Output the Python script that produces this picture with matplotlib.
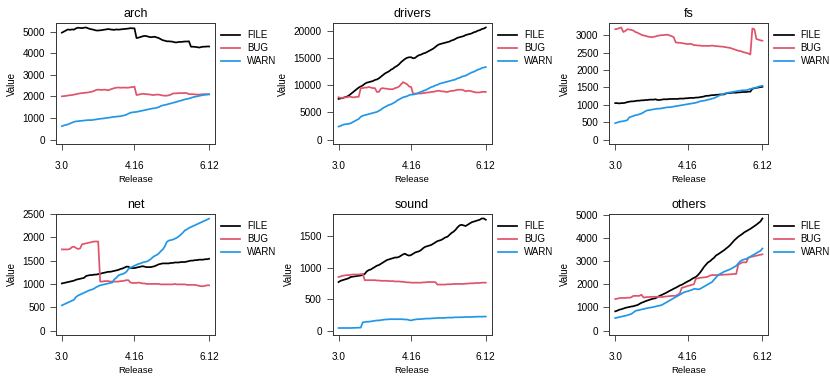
#!/usr/bin/env python3
"""Per-subsystem FILE / BUG / WARN counts across kernel releases (3.0 .. 6.12)."""

from __future__ import annotations

import matplotlib

matplotlib.use("Agg")
import matplotlib.pyplot as plt

# releases 3.0-3.19, 4.0-4.20, 5.0-5.19, 6.0-6.12
RELEASES = (
    [f"3.{i}" for i in range(20)]
    + [f"4.{i}" for i in range(21)]
    + [f"5.{i}" for i in range(20)]
    + [f"6.{i}" for i in range(13)]
)
TICK_RELEASES = ["3.0", "4.16", "6.12"]

SERIES = ["FILE", "BUG", "WARN"]
COLORS = {"FILE": "#000000", "BUG": "#DF536B", "WARN": "#2297E6"}
SUBSYSTEMS = ["arch", "drivers", "fs", "net", "sound", "others"]

arch_file = [
    4950, 5000, 5050, 5100, 5080, 5100, 5090, 5150, 5180, 5170,
    5160, 5180, 5190, 5150, 5120, 5100, 5080, 5050, 5050, 5060,
    5070, 5090, 5100, 5120, 5100, 5090, 5080, 5100, 5090, 5100,
    5110, 5120, 5130, 5140, 5160, 5150, 5150,
    4700, 4720, 4750, 4780, 4800, 4790, 4760, 4740, 4750, 4760,
    4730, 4700, 4650, 4600, 4580, 4550, 4550, 4540, 4530, 4500,
    4500, 4520, 4520, 4530, 4540, 4540, 4550, 4300, 4300, 4290,
    4280, 4260, 4280, 4300, 4300, 4310, 4310,
]
arch_bug = [
    2000, 2010, 2020, 2040, 2050, 2060, 2080, 2100, 2120, 2140,
    2150, 2160, 2170, 2180, 2200, 2220, 2250, 2300, 2310, 2300,
    2300, 2310, 2300, 2280, 2320, 2350, 2380, 2400, 2410, 2400,
    2400, 2410, 2400, 2400, 2420, 2430, 2450,
    2060, 2080, 2100, 2120, 2110, 2100, 2090, 2080, 2060, 2070,
    2080, 2080, 2060, 2040, 2030, 2030, 2050, 2080, 2130, 2140,
    2140, 2150, 2150, 2150, 2160, 2150, 2100, 2100, 2100, 2090,
    2080, 2080, 2090, 2100, 2100, 2100, 2100,
]
arch_warn = [
    620, 650, 680, 700, 740, 780, 820, 840, 850, 860,
    870, 880, 890, 900, 900, 900, 920, 930, 950, 960,
    970, 980, 1000, 1010, 1020, 1040, 1050, 1060, 1070, 1080,
    1100, 1120, 1150, 1200, 1240, 1260, 1270,
    1280, 1300, 1320, 1340, 1360, 1380, 1400, 1420, 1440, 1450,
    1470, 1500, 1550, 1580, 1600, 1620, 1650, 1670, 1700, 1720,
    1750, 1780, 1800, 1830, 1860, 1880, 1900, 1930, 1960, 1980,
    2000, 2020, 2040, 2060, 2070, 2080, 2090,
]

drivers_file = [
    7500, 7600, 7650, 7800, 7900, 8100, 8400, 8700, 9000, 9300,
    9600, 9800, 10000, 10300, 10500, 10600, 10700, 10800, 11000, 11100,
    11300, 11600, 11900, 12200, 12400, 12600, 12900, 13100, 13400, 13600,
    13900, 14300, 14600, 14900, 15100, 15200, 15200,
    15000, 15100, 15400, 15600, 15700, 15900, 16000, 16200, 16400, 16600,
    16800, 17100, 17400, 17600, 17700, 17800, 17900, 18000, 18100, 18300,
    18400, 18600, 18800, 18900, 19000, 19100, 19300, 19400, 19500, 19600,
    19800, 19900, 20100, 20200, 20400, 20500, 20700,
]
drivers_bug = [
    7800, 7700, 7700, 7800, 7800, 7900, 7900, 7800, 7800, 7900,
    7900, 9500, 9500, 9600, 9600, 9700, 9600, 9500, 9500, 8800,
    8800, 9400, 9500, 9400, 9400, 9300, 9300, 9300, 9500, 9600,
    9800, 10200, 10600, 10400, 10200, 9800, 9700,
    8400, 8500, 8500, 8500, 8500, 8600, 8600, 8700, 8700, 8800,
    8800, 8900, 9000, 9000, 8900, 8900, 8800, 8800, 8900, 9000,
    9000, 9100, 9200, 9200, 9200, 9100, 8900, 9000, 9000, 8900,
    8800, 8700, 8700, 8700, 8800, 8800, 8800,
]
drivers_warn = [
    2400, 2500, 2700, 2800, 2850, 2900, 3000, 3200, 3400, 3600,
    3800, 4200, 4400, 4500, 4600, 4700, 4800, 4900, 5000, 5100,
    5300, 5500, 5800, 6000, 6200, 6400, 6500, 6700, 6900, 7200,
    7400, 7600, 7800, 7900, 8000, 8200, 8300,
    8300, 8400, 8500, 8700, 8800, 9000, 9100, 9300, 9500, 9700,
    9800, 10000, 10100, 10300, 10400, 10500, 10600, 10700, 10800, 10900,
    11000, 11100, 11300, 11400, 11600, 11700, 11800, 12000, 12200, 12400,
    12500, 12700, 12900, 13000, 13200, 13300, 13400,
]

fs_file = [
    1050, 1050, 1040, 1050, 1050, 1060, 1080, 1090, 1100, 1100,
    1110, 1120, 1120, 1130, 1130, 1140, 1140, 1150, 1150, 1150,
    1160, 1140, 1140, 1150, 1160, 1160, 1160, 1170, 1170, 1170,
    1170, 1170, 1180, 1180, 1180, 1190, 1190,
    1200, 1200, 1200, 1210, 1210, 1220, 1230, 1240, 1260, 1260,
    1270, 1280, 1280, 1290, 1290, 1300, 1300, 1300, 1330, 1340,
    1340, 1350, 1350, 1350, 1360, 1360, 1370, 1370, 1370, 1380,
    1380, 1460, 1480, 1490, 1500, 1510, 1520,
]
fs_bug = [
    3180, 3190, 3210, 3230, 3100, 3130, 3180, 3170, 3160, 3140,
    3100, 3080, 3050, 3020, 3000, 2990, 2970, 2960, 2950, 2960,
    2970, 2990, 3000, 3010, 3010, 3020, 3020, 3000, 2980, 2950,
    2800, 2790, 2790, 2780, 2770, 2760, 2750,
    2760, 2750, 2720, 2720, 2710, 2710, 2700, 2700, 2700, 2700,
    2700, 2710, 2700, 2690, 2690, 2680, 2680, 2670, 2660, 2650,
    2640, 2620, 2600, 2580, 2560, 2550, 2530, 2510, 2500, 2480,
    2450, 3200, 3180, 2900, 2880, 2860, 2850,
]
fs_warn = [
    470, 490, 510, 520, 530, 540, 560, 640, 660, 680,
    700, 710, 730, 750, 780, 820, 840, 850, 860, 870,
    880, 890, 890, 900, 910, 920, 930, 930, 940, 950,
    960, 970, 980, 990, 1000, 1010, 1020,
    1030, 1040, 1050, 1060, 1080, 1100, 1110, 1120, 1130, 1150,
    1160, 1180, 1190, 1220, 1250, 1280, 1300, 1320, 1340, 1350,
    1360, 1370, 1380, 1390, 1400, 1410, 1420, 1420, 1420, 1440,
    1460, 1470, 1490, 1500, 1520, 1540, 1550,
]

net_file = [
    1010, 1020, 1030, 1040, 1050, 1060, 1070, 1090, 1100, 1110,
    1120, 1130, 1170, 1180, 1190, 1190, 1200, 1200, 1210, 1220,
    1230, 1240, 1250, 1260, 1260, 1270, 1280, 1290, 1300, 1320,
    1330, 1350, 1370, 1370, 1340, 1340, 1340,
    1350, 1360, 1370, 1380, 1370, 1360, 1360, 1360, 1370, 1380,
    1400, 1420, 1430, 1440, 1440, 1440, 1440, 1450, 1450, 1460,
    1460, 1460, 1470, 1470, 1470, 1480, 1490, 1500, 1500, 1510,
    1510, 1520, 1520, 1520, 1530, 1530, 1540,
]
net_bug = [
    1740, 1740, 1740, 1740, 1750, 1790, 1800, 1770, 1750, 1760,
    1850, 1860, 1870, 1880, 1890, 1900, 1910, 1910, 1910, 1050,
    1050, 1060, 1060, 1060, 1050, 1050, 1050, 1050, 1050, 1060,
    1060, 1070, 1080, 1080, 1030, 1020, 1020,
    1020, 1030, 1020, 1010, 1010, 1000, 1000, 1000, 1000, 1000,
    1000, 1000, 990, 990, 990, 990, 990, 990, 990, 1000,
    990, 990, 990, 990, 990, 980, 980, 980, 980, 980,
    970, 960, 950, 950, 960, 970, 970,
]
net_warn = [
    540, 560, 580, 600, 620, 640, 660, 720, 750, 770,
    790, 810, 830, 850, 870, 880, 900, 930, 950, 970,
    980, 990, 1000, 1010, 1020, 1030, 1100, 1130, 1180, 1200,
    1210, 1230, 1260, 1320, 1350, 1370, 1390,
    1410, 1430, 1440, 1460, 1470, 1480, 1500, 1530, 1570, 1600,
    1620, 1650, 1700, 1740, 1800, 1900, 1930, 1940, 1950, 1970,
    1990, 2020, 2060, 2100, 2150, 2170, 2200, 2220, 2240, 2260,
    2280, 2300, 2320, 2340, 2360, 2380, 2400,
]

sound_file = [
    770, 790, 800, 810, 820, 830, 850, 855, 860, 865,
    870, 875, 880, 900, 940, 960, 970, 990, 1010, 1030,
    1040, 1060, 1080, 1100, 1120, 1130, 1140, 1150, 1160, 1160,
    1170, 1190, 1210, 1220, 1200, 1190, 1200,
    1220, 1240, 1250, 1260, 1280, 1310, 1330, 1340, 1350, 1360,
    1380, 1400, 1420, 1430, 1440, 1460, 1480, 1490, 1520, 1550,
    1570, 1600, 1640, 1670, 1680, 1670, 1660, 1680, 1700, 1720,
    1730, 1740, 1750, 1760, 1780, 1780, 1760,
]
sound_bug = [
    850, 860, 870, 875, 880, 880, 885, 890, 890, 890,
    890, 895, 900, 800, 800, 800, 800, 800, 800, 795,
    795, 790, 790, 790, 790, 785, 785, 785, 780, 780,
    780, 775, 775, 770, 765, 765, 760,
    760, 760, 760, 760, 760, 765, 765, 770, 770, 770,
    770, 770, 730, 730, 730, 730, 730, 735, 735, 735,
    740, 740, 740, 740, 740, 740, 745, 745, 750, 750,
    750, 755, 755, 755, 760, 760, 760,
]
sound_warn = [
    40, 40, 40, 40, 40, 40, 40, 42, 42, 44,
    45, 46, 130, 135, 140, 140, 145, 150, 155, 160,
    160, 165, 170, 175, 175, 180, 180, 180, 180, 180,
    180, 180, 178, 175, 175, 165, 160,
    170, 175, 180, 180, 182, 185, 188, 190, 190, 192,
    195, 195, 198, 200, 200, 200, 202, 205, 205, 205,
    208, 210, 210, 210, 212, 212, 215, 215, 215, 215,
    218, 218, 220, 220, 220, 222, 222,
]

others_file = [
    830, 860, 900, 920, 950, 980, 1000, 1020, 1040, 1050,
    1080, 1100, 1150, 1200, 1230, 1270, 1300, 1330, 1360, 1380,
    1400, 1450, 1500, 1540, 1580, 1620, 1670, 1720, 1760, 1810,
    1850, 1900, 1950, 1980, 2030, 2080, 2130,
    2170, 2230, 2280, 2320, 2400, 2500, 2620, 2750, 2850, 2950,
    3000, 3080, 3150, 3250, 3300, 3360, 3420, 3480, 3550, 3620,
    3700, 3800, 3900, 3980, 4060, 4120, 4180, 4250, 4300, 4350,
    4400, 4460, 4520, 4580, 4650, 4720, 4850,
]
others_bug = [
    1360, 1380, 1400, 1410, 1410, 1410, 1420, 1420, 1440, 1500,
    1500, 1500, 1500, 1550, 1430, 1440, 1450, 1450, 1460, 1460,
    1460, 1460, 1450, 1450, 1460, 1470, 1480, 1490, 1500, 1500,
    1500, 1550, 1600, 1850, 1870, 1900, 1930,
    1950, 1980, 2000, 2250, 2260, 2280, 2290, 2300, 2310, 2330,
    2380, 2400, 2400, 2400, 2400, 2410, 2410, 2420, 2420, 2430,
    2430, 2440, 2450, 2450, 2850, 2900, 2950, 2950, 2950, 3150,
    3180, 3200, 3220, 3240, 3260, 3280, 3300,
]
others_warn = [
    540, 560, 580, 600, 620, 640, 660, 690, 720, 780,
    850, 870, 890, 910, 930, 950, 970, 990, 1000, 1020,
    1040, 1060, 1080, 1100, 1150, 1200, 1250, 1300, 1350, 1400,
    1450, 1500, 1550, 1600, 1650, 1680, 1700,
    1730, 1760, 1800, 1800, 1780, 1800, 1850, 1900, 1950, 2000,
    2050, 2100, 2200, 2300, 2400, 2450, 2500, 2550, 2580, 2620,
    2650, 2700, 2750, 2800, 2900, 3000, 3050, 3080, 3100, 3150,
    3200, 3250, 3300, 3350, 3400, 3450, 3550,
]

DATA = {
    "arch": {"FILE": arch_file, "BUG": arch_bug, "WARN": arch_warn},
    "drivers": {"FILE": drivers_file, "BUG": drivers_bug, "WARN": drivers_warn},
    "fs": {"FILE": fs_file, "BUG": fs_bug, "WARN": fs_warn},
    "net": {"FILE": net_file, "BUG": net_bug, "WARN": net_warn},
    "sound": {"FILE": sound_file, "BUG": sound_bug, "WARN": sound_warn},
    "others": {"FILE": others_file, "BUG": others_bug, "WARN": others_warn},
}
Y_TICKS = {
    "arch": [0, 1000, 2000, 3000, 4000, 5000],
    "drivers": [0, 5000, 10000, 15000, 20000],
    "fs": [0, 500, 1000, 1500, 2000, 2500, 3000],
    "net": [0, 500, 1000, 1500, 2000, 2500],
    "sound": [0, 500, 1000, 1500],
    "others": [0, 1000, 2000, 3000, 4000, 5000],
}

FIG_W, FIG_H = 830, 382
CELL_W, CELL_H = FIG_W / 3, FIG_H / 2

plt.rcParams["font.family"] = ["Liberation Sans", "DejaVu Sans"]


def px_rect(left, top, right, bottom):
    return [left / FIG_W, 1 - bottom / FIG_H, (right - left) / FIG_W, (bottom - top) / FIG_H]


def draw_panel(fig, idx, name):
    col, row = idx % 3, idx // 3
    x0, y0 = col * CELL_W, row * CELL_H
    ax = fig.add_axes(px_rect(x0 + 56, y0 + 23, x0 + 215, y0 + 144))

    xs = list(range(len(RELEASES)))
    ymax = max(max(v) for v in DATA[name].values())
    lines = []
    for key in SERIES:
        (ln,) = ax.plot(xs, DATA[name][key], color=COLORS[key], lw=1.25, label=key)
        lines.append(ln)

    n = len(RELEASES) - 1
    ax.set_xlim(-0.04 * n, n * 1.04)
    ax.set_ylim(-0.04 * ymax, ymax * 1.04)
    ax.set_xticks([RELEASES.index(r) for r in TICK_RELEASES])
    ax.set_xticklabels(TICK_RELEASES)
    ax.set_yticks(Y_TICKS[name])
    ax.tick_params(labelsize=7.2, length=4.3, width=0.6, color="#333333", pad=3.5)
    ax.tick_params(axis="x", pad=8)
    for sp in ax.spines.values():
        sp.set_linewidth(0.7)
        sp.set_color("#333333")

    ax.set_title(name, fontsize=9, pad=4)
    ax.set_xlabel("Release", fontsize=6.8, labelpad=3)
    ax.set_ylabel("Value", fontsize=7, labelpad=4)

    fig.legend(
        handles=lines,
        loc="upper left",
        bbox_to_anchor=((x0 + 221) / FIG_W, 1 - (y0 + 30.5) / FIG_H),
        frameon=False,
        fontsize=7,
        handlelength=2.0,
        handletextpad=0.7,
        labelspacing=0.3,
        borderpad=0,
        borderaxespad=0,
    )


def main() -> int:
    fig = plt.figure(figsize=(FIG_W / 100, FIG_H / 100), dpi=100)
    for idx, name in enumerate(SUBSYSTEMS):
        draw_panel(fig, idx, name)
    fig.savefig("out.png", dpi=100)
    plt.close(fig)
    return 0


if __name__ == "__main__":
    raise SystemExit(main())
